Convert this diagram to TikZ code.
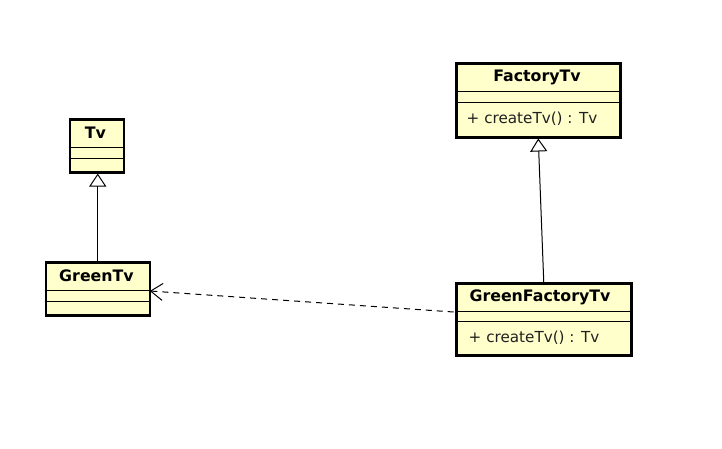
\documentclass[tikz,border=0pt]{standalone}
\usepackage{fontspec}
\setmainfont{DejaVu Sans}
\usetikzlibrary{arrows.meta}
\definecolor{classfill}{HTML}{FFFFCC}
\definecolor{optext}{HTML}{202020}
\begin{document}
\begin{tikzpicture}[x=1pt,y=-1pt,
  cls/.style={draw=black, fill=classfill, line width=2.5pt, inner sep=0pt, anchor=north west},
  sep/.style={draw=black, line width=0.9pt},
  hdr/.style={font=\fontsize{15.8}{19}\selectfont\bfseries, inner sep=0pt},
  op/.style={font=\fontsize{15.2}{18}\selectfont, text=optext, inner sep=0pt, anchor=west},
  gen/.style={line width=1pt, -{Triangle[open, length=13pt, width=17pt, line width=1pt]}},
  dep/.style={line width=1pt, dash pattern=on 6pt off 5pt, -{Straight Barb[length=12pt, width=17pt, line width=1pt]}}
]
\useasboundingbox (0,0) rectangle (722,448);
\begin{scope}[shift={(-1,-1)}]
% Tv
\node[cls, minimum width=54pt, minimum height=53pt] (tv) at (69.5,119) {};
\draw[sep] (69.5,148) -- (123.5,148);
\draw[sep] (69.5,159) -- (123.5,159);
\node[hdr] (tvname) at (96.5,133.5) {Tv};
% GreenTv
\node[cls, minimum width=104pt, minimum height=53pt] (gtv) at (45.5,262) {};
\draw[sep] (45.5,291) -- (149.5,291);
\draw[sep] (45.5,302) -- (149.5,302);
\node[hdr] (gtvname) at (97.5,276.5) {GreenTv};
% FactoryTv
\node[cls, minimum width=164pt, minimum height=74pt] (ftv) at (456,63) {};
\draw[sep] (456,92) -- (620,92);
\draw[sep] (456,103) -- (620,103);
\node[hdr] (ftvname) at (538,78) {FactoryTv};
\node[op] (ftvop) at (467.5,120) {+ createTv() : Tv};
% GreenFactoryTv
\node[cls, minimum width=175pt, minimum height=72pt] (gft) at (456,283) {};
\draw[sep] (456,312) -- (631,312);
\draw[sep] (456,322) -- (631,322);
\node[hdr] (gftname) at (541,298) {GreenFactoryTv};
\node[op] (gftop) at (469.5,339) {+ createTv() : Tv};
% connectors
\draw[gen] (gtv.north) -- (gtv.north |- tv.south);
\draw[gen] (gft.north) -- (ftv.south);
\coordinate (depstart) at (454.7,313);
\coordinate (depend) at (150.8,292);
\draw[dep] (depstart) -- (depend);
\end{scope}
\end{tikzpicture}
\end{document}
